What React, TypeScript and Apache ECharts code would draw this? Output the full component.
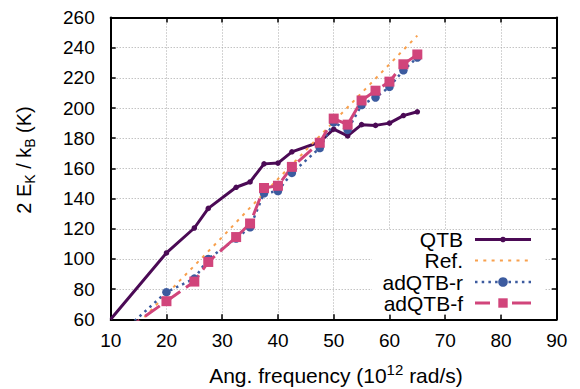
import React, { useEffect, useRef } from "react";
import * as echarts from "echarts";

// Angular frequency (10^12 rad/s) and 2 E_K / k_B (K)
const freqQTB = [10, 20, 25, 27.5, 32.5, 35, 37.5, 40, 42.5, 47.5, 50, 52.5, 55, 57.5, 60, 62.5, 65];
const qtbValues = [60, 104, 120.5, 133.5, 147.5, 151, 163, 163.5, 171, 177.5, 186, 181.5, 189, 188.5, 190, 195, 197.5];

const freqRef = [15, 20, 25, 30, 35, 40, 45, 50, 55, 60, 65];
const refValues = [57.5, 76.5, 95.5, 114.5, 134, 153, 172, 191, 210, 229, 248];

const freqAd = [12.5, 20, 25, 27.5, 32.5, 35, 37.5, 40, 42.5, 47.5, 50, 52.5, 55, 57.5, 60, 62.5, 65];
const adQtbRValues = [53, 78, 87, 100, 113.5, 121, 143.5, 145, 157, 173.5, 190.5, 185.5, 202, 207, 214, 225, 233.5];
const adQtbFValues = [52.5, 72, 85, 98, 114.5, 123.5, 147, 148.5, 161, 177, 193, 189, 205, 211.5, 217.5, 229, 235.5];

const seriesNames = ["QTB", "Ref.", "adQTB-r", "adQTB-f"];

const X_MIN = 10, X_MAX = 90, X_STEP = 10;
const Y_MIN = 60, Y_MAX = 260, Y_STEP = 20;

const C_QTB = "#4b0a55";
const C_REF = "#f8a04d";
const C_R = "#3c5b9f";
const C_F = "#d1457b";
const FONT = '"Liberation Sans", Arial, Helvetica, sans-serif';

function pairs(xs: number[], ys: number[], hideFirst: boolean) {
  return xs.map((x, i) =>
    hideFirst && i === 0 ? { value: [x, ys[i]], symbol: "none" } : [x, ys[i]]
  );
}

export default function App() {
  const ref = useRef<HTMLDivElement>(null);
  useEffect(() => {
    if (!ref.current) return;
    const chart = echarts.init(ref.current, undefined, { renderer: "svg" });

    const axisLine = { show: true, onZero: false, lineStyle: { color: "#000", width: 2 } };
    const axisTick = { show: true, inside: true, length: 5, lineStyle: { color: "#000", width: 1.5 } };
    const split = { show: true, lineStyle: { color: "#a8a8a8", width: 1, type: [1, 2] } };
    const tickFont = { color: "#000", fontSize: 19, fontFamily: FONT };

    const lx1 = 475, lx2 = 531, lmid = 503, ltx = 463;
    const rowsY = [239.5, 260.5, 282, 303];

    const graphic: any[] = [
      {
        type: "text",
        x: 336,
        y: 375,
        style: {
          text: "{a|Ang. frequency (10}{p|12}{a| rad/s)}",
          align: "center",
          verticalAlign: "middle",
          textAlign: "center",
          textVerticalAlign: "middle",
          rich: {
            a: { fontSize: 21, fontFamily: FONT, fill: "#000", lineHeight: 27, verticalAlign: "middle" },
            p: { fontSize: 15, fontFamily: FONT, fill: "#000", lineHeight: 27, verticalAlign: "top" },
          },
        },
      },
      {
        type: "text",
        x: 24,
        y: 160,
        rotation: Math.PI / 2,
        style: {
          text: "{a|2 E}{s|K}{a| / k}{s|B}{a| (K)}",
          align: "center",
          verticalAlign: "middle",
          textAlign: "center",
          textVerticalAlign: "middle",
          rich: {
            a: { fontSize: 20, fontFamily: FONT, fill: "#000", lineHeight: 26, verticalAlign: "middle" },
            s: { fontSize: 14, fontFamily: FONT, fill: "#000", lineHeight: 26, verticalAlign: "bottom" },
          },
        },
      },
      {
        type: "rect",
        z: 5,
        shape: { x: 372, y: 230, width: 173, height: 84.5 },
        style: { fill: "#fff" },
      },
    ];
    seriesNames.forEach((n, i) => {
      graphic.push({
        type: "text",
        z: 6,
        x: ltx,
        y: rowsY[i],
        style: {
          text: n,
          fill: "#000",
          fontSize: 21,
          fontFamily: FONT,
          align: "right",
          verticalAlign: "middle",
          textAlign: "right",
          textVerticalAlign: "middle",
        },
      });
    });
    // legend samples
    graphic.push(
      { type: "line", z: 6, shape: { x1: lx1, y1: rowsY[0], x2: lx2, y2: rowsY[0] }, style: { stroke: C_QTB, lineWidth: 3 } },
      { type: "circle", z: 7, shape: { cx: lmid, cy: rowsY[0], r: 2.8 }, style: { fill: C_QTB } },
      { type: "line", z: 6, shape: { x1: lx1, y1: rowsY[1], x2: lx2, y2: rowsY[1] }, style: { stroke: C_REF, lineWidth: 2, lineDash: [3, 5.3] } },
      { type: "line", z: 6, shape: { x1: lx1, y1: rowsY[2], x2: lx2, y2: rowsY[2] }, style: { stroke: C_R, lineWidth: 2.5, lineDash: [2.5, 4.2] } },
      { type: "circle", z: 7, shape: { cx: lmid, cy: rowsY[2], r: 4.8 }, style: { fill: C_R } },
      { type: "line", z: 6, shape: { x1: lx1, y1: rowsY[3], x2: 490, y2: rowsY[3] }, style: { stroke: C_F, lineWidth: 3 } },
      { type: "line", z: 6, shape: { x1: 512, y1: rowsY[3], x2: lx2, y2: rowsY[3] }, style: { stroke: C_F, lineWidth: 3 } },
      { type: "rect", z: 7, shape: { x: lmid - 4.7, y: rowsY[3] - 4.7, width: 9.4, height: 9.4 }, style: { fill: C_F } }
    );

    chart.setOption({
      animation: false,
      backgroundColor: "#fff",
      grid: { left: 110.7, right: 23.3, top: 17.5, bottom: 69.7, containLabel: false },
      xAxis: [
        {
          type: "value", min: X_MIN, max: X_MAX, interval: X_STEP, position: "bottom",
          axisLine, axisTick, splitLine: split,
          axisLabel: { ...tickFont, margin: 12 },
        },
        {
          type: "value", min: X_MIN, max: X_MAX, interval: X_STEP, position: "top",
          axisLine, axisTick, splitLine: { show: false }, axisLabel: { show: false },
        },
      ],
      yAxis: [
        {
          type: "value", min: Y_MIN, max: Y_MAX, interval: Y_STEP, position: "left",
          axisLine, axisTick, splitLine: split,
          axisLabel: { ...tickFont, margin: 16 },
        },
        {
          type: "value", min: Y_MIN, max: Y_MAX, interval: Y_STEP, position: "right",
          axisLine, axisTick, splitLine: { show: false }, axisLabel: { show: false },
        },
      ],
      graphic,
      series: [
        {
          name: seriesNames[0], type: "line", data: pairs(freqQTB, qtbValues, true),
          symbol: "circle", symbolSize: 5.5, showAllSymbol: true,
          lineStyle: { color: C_QTB, width: 3 }, itemStyle: { color: C_QTB },
        },
        {
          name: seriesNames[1], type: "line", data: pairs(freqRef, refValues, false),
          symbol: "none",
          lineStyle: { color: C_REF, width: 2, type: [3, 5.3] },
          itemStyle: { color: C_REF },
        },
        {
          name: seriesNames[2], type: "line", data: pairs(freqAd, adQtbRValues, true),
          symbol: "circle", symbolSize: 8.5, showAllSymbol: true,
          lineStyle: { color: C_R, width: 2.5, type: [2.5, 4.2] }, itemStyle: { color: C_R },
        },
        {
          name: seriesNames[3], type: "line", data: pairs(freqAd, adQtbFValues, true),
          symbol: "rect", symbolSize: 10, showAllSymbol: true,
          lineStyle: { color: C_F, width: 3, type: [18, 7] }, itemStyle: { color: C_F },
        },
      ],
    });
    return () => chart.dispose();
  }, []);
  return (
    <div
      ref={ref}
      style={{ position: "absolute", left: 0, top: 0, width: 580, height: 389 }}
    />
  );
}
